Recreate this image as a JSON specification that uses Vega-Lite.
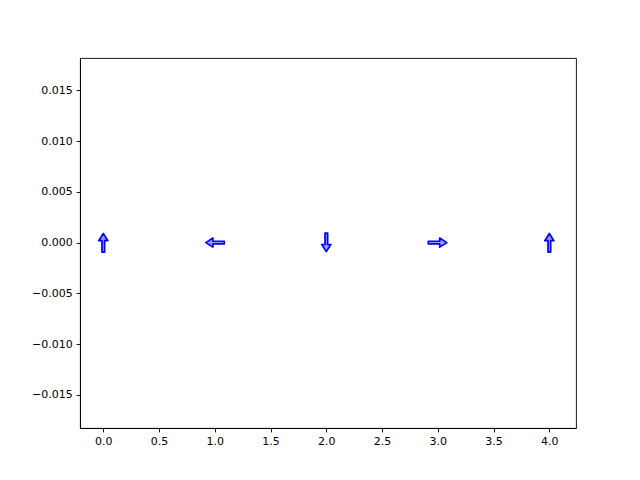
{
  "$schema": "https://vega.github.io/schema/vega-lite/v6.json",
  "width": 496,
  "height": 370,
  "autosize": {"type": "none"},
  "padding": {"left": 80, "top": 58, "right": 64, "bottom": 52},
  "background": "white",
  "config": {
    "view": {"stroke": "black", "strokeWidth": 0.9},
    "axis": {
      "grid": false,
      "domainColor": "black",
      "domainWidth": 0.9,
      "tickColor": "black",
      "tickWidth": 0.9,
      "tickSize": 3.9,
      "labelFont": "DejaVu Sans",
      "labelFontSize": 11,
      "labelColor": "black",
      "labelPadding": 3.9,
      "title": null
    }
  },
  "data": {
    "values": [
      {"x": 0, "y": 0, "angle": 0},
      {"x": 1, "y": 0, "angle": 270},
      {"x": 2, "y": 0, "angle": 180},
      {"x": 3, "y": 0, "angle": 90},
      {"x": 4, "y": 0, "angle": 0}
    ]
  },
  "mark": {
    "type": "point",
    "filled": true,
    "shape": "M-0.14,1 L0.14,1 L0.14,-0.2 L0.48,-0.2 L0,-0.95 L-0.48,-0.2 L-0.14,-0.2 Z",
    "size": 361,
    "fill": "#9a9aff",
    "stroke": "#0000ff",
    "strokeWidth": 1.7,
    "strokeJoin": "round",
    "opacity": 1
  },
  "encoding": {
    "x": {
      "field": "x",
      "type": "quantitative",
      "scale": {"domain": [-0.209, 4.239], "nice": false, "zero": false},
      "axis": {"values": [0, 0.5, 1, 1.5, 2, 2.5, 3, 3.5, 4], "format": ".1f", "labelFlush": false, "labelOverlap": false}
    },
    "y": {
      "field": "y",
      "type": "quantitative",
      "scale": {"domain": [-0.01828, 0.0182], "nice": false, "zero": false},
      "axis": {"values": [-0.015, -0.01, -0.005, 0, 0.005, 0.01, 0.015], "format": ".3f", "labelFlush": false, "labelOverlap": false}
    },
    "angle": {"field": "angle", "type": "quantitative", "scale": null}
  }
}
